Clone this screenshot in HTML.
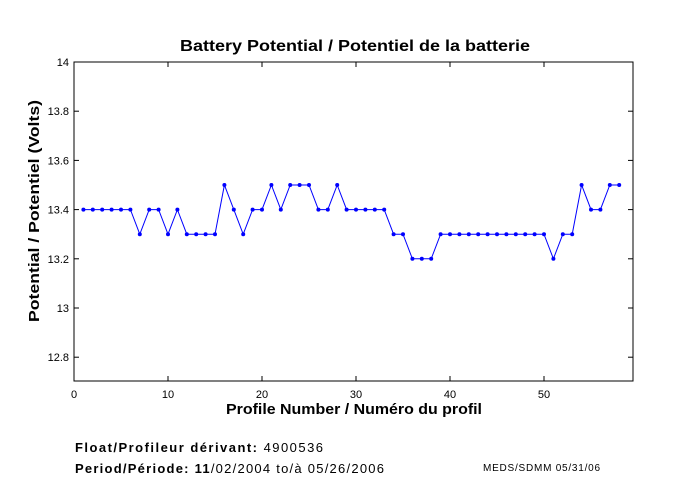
<!DOCTYPE html>
<html><head><meta charset="utf-8"><style>
html,body{margin:0;padding:0;background:#fff;}
svg{display:block;font-family:"Liberation Sans",sans-serif;}
</style></head><body>
<svg id="s" width="680" height="500" xmlns="http://www.w3.org/2000/svg">
<rect width="680" height="500" fill="#fff"/>
<rect x="74" y="62" width="559" height="319" fill="none" stroke="#000" stroke-width="1"/>
<g id="ticks" stroke="#000" stroke-width="1"></g>
<g id="labels" font-size="11" fill="#000"></g>
<text x="180" y="51" font-size="16" font-weight="bold" textLength="350" lengthAdjust="spacingAndGlyphs">Battery Potential / Potentiel de la batterie</text>
<text x="226" y="414" font-size="15" font-weight="bold" textLength="256" lengthAdjust="spacingAndGlyphs">Profile Number / Numéro du profil</text>
<text transform="translate(39,322) rotate(-90)" font-size="15" font-weight="bold" textLength="222" lengthAdjust="spacingAndGlyphs">Potential / Potentiel (Volts)</text>
<text x="75" y="452" font-size="13" textLength="248" lengthAdjust="spacing"><tspan font-weight="bold">Float/Profileur dérivant:</tspan> 4900536</text>
<text x="75" y="473" font-size="13" textLength="309" lengthAdjust="spacing"><tspan font-weight="bold">Period/Période: 11</tspan>/02/2004  to/à  05/26/2006</text>
<text x="483" y="471" font-size="10" textLength="117" lengthAdjust="spacing">MEDS/SDMM  05/31/06</text>
<polyline id="line" fill="none" stroke="#0000ff" stroke-width="1"/>
<g id="dots" fill="#0000ff"></g>
</svg>
<script>
var v=[13.4,13.4,13.4,13.4,13.4,13.4,13.3,13.4,13.4,13.3,13.4,13.3,13.3,13.3,13.3,13.5,13.4,13.3,13.4,13.4,13.5,13.4,13.5,13.5,13.5,13.4,13.4,13.5,13.4,13.4,13.4,13.4,13.4,13.3,13.3,13.2,13.2,13.2,13.3,13.3,13.3,13.3,13.3,13.3,13.3,13.3,13.3,13.3,13.3,13.3,13.2,13.3,13.3,13.5,13.4,13.4,13.5,13.5];
function X(n){return 74+9.4*n;}function Y(a){return 62+(14-a)*246;}
var ns="http://www.w3.org/2000/svg",pts=[],d=document.getElementById('dots');
v.forEach(function(a,i){var x=X(i+1),y=Y(a);pts.push(x+","+y);var c=document.createElementNS(ns,'circle');c.setAttribute('cx',x);c.setAttribute('cy',y);c.setAttribute('r',2);d.appendChild(c);});
document.getElementById('line').setAttribute('points',pts.join(' '));
var t=document.getElementById('ticks'),l=document.getElementById('labels');
function ln(x1,y1,x2,y2){var e=document.createElementNS(ns,'line');e.setAttribute('x1',x1);e.setAttribute('y1',y1);e.setAttribute('x2',x2);e.setAttribute('y2',y2);t.appendChild(e);}
function tx(x,y,s,an){var e=document.createElementNS(ns,'text');e.setAttribute('x',x);e.setAttribute('y',y);e.setAttribute('text-anchor',an);e.textContent=s;l.appendChild(e);}
for(var k=0;k<=5;k++){var x=X(k*10);ln(x,381,x,376);ln(x,62,x,67);tx(x,398,String(k*10),'middle');}
var ys=[[14,'14'],[13.8,'13.8'],[13.6,'13.6'],[13.4,'13.4'],[13.2,'13.2'],[13,'13'],[12.8,'12.8']];
ys.forEach(function(p){var y=Y(p[0]);ln(74,y,79,y);ln(633,y,628,y);tx(69,y+4,p[1],'end');});
</script>
</body></html>
